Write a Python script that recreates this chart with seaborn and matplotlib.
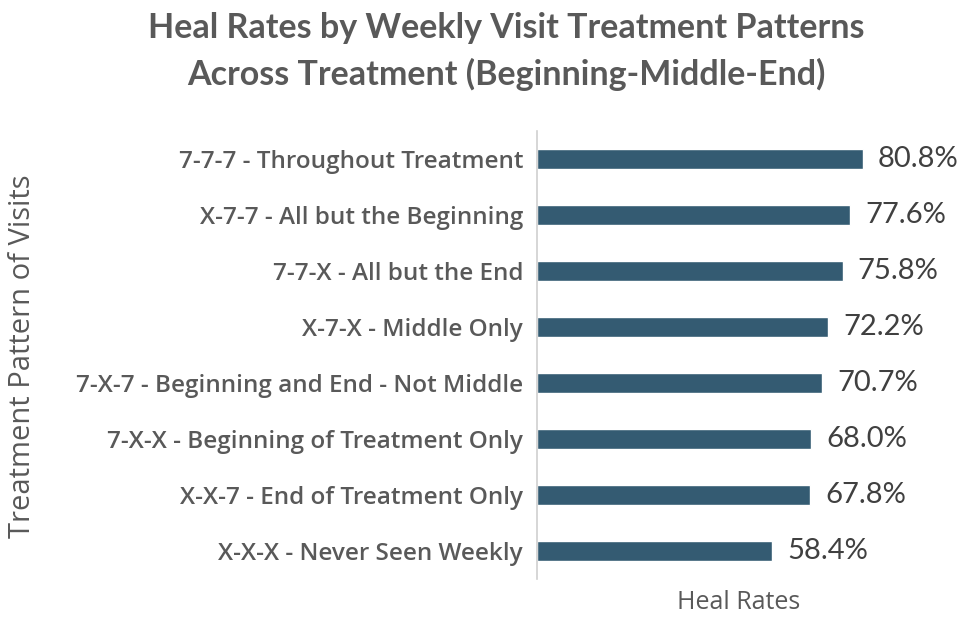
"""Heal rates by weekly visit pattern: horizontal bar chart."""
import matplotlib

matplotlib.use("Agg")
import matplotlib.pyplot as plt
import pandas as pd
import seaborn as sns

patterns = [
    "7-7-7 - Throughout Treatment",
    "X-7-7 - All but the Beginning",
    "7-7-X - All but the End",
    "X-7-X - Middle Only",
    "7-X-7 - Beginning and End - Not Middle",
    "7-X-X - Beginning of Treatment Only",
    "X-X-7 - End of Treatment Only",
    "X-X-X - Never Seen Weekly",
]
heal_rates = [80.8, 77.6, 75.8, 72.2, 70.7, 68.0, 67.8, 58.4]

BAR = "#345b72"
TXT = "#595959"

sns.set_style("white")
plt.rcParams["font.family"] = ["Open Sans", "DejaVu Sans"]

df = pd.DataFrame({"pattern": patterns, "rate": heal_rates})

fig = plt.figure(figsize=(9.61, 6.17), dpi=100)
ax = fig.add_axes([0.5588, 0.0616, 0.4194, 0.726])
sns.barplot(data=df, x="rate", y="pattern", orient="h", color=BAR,
            width=0.36, saturation=1, ax=ax)

ax.set_xlim(0, 100)
ax.set_ylim(len(patterns) - 0.5, -0.5)
for i, v in enumerate(heal_rates):
    ax.text(v + 3.8, i, f"{v:.1f}%", va="center", ha="left",
            fontsize=21, color="#404040", family=["Lato", "DejaVu Sans"])

# spine with ticks at category boundaries
for s in ["top", "right", "bottom"]:
    ax.spines[s].set_visible(False)
ax.spines["left"].set_color("#d0d0d0")
ax.spines["left"].set_linewidth(1.2)
ax.set_xticks([])
ax.set_yticks(range(len(patterns)))
ax.set_yticklabels(patterns, fontsize=17.5, color=TXT, fontweight="semibold")
ax.tick_params(axis="y", length=0, pad=10)
ax.set_yticks([i - 0.5 for i in range(len(patterns) + 1)], minor=True)
ax.tick_params(axis="y", which="minor", length=6, color="#d0d0d0", width=1.2)

ax.set_xlabel("Heal Rates", fontsize=18, color=TXT, labelpad=8)
ax.set_ylabel("")
fig.text(0.023, 0.423, "Treatment Pattern of Visits", rotation=90,
         ha="center", va="center", fontsize=21, color=TXT)

fig.text(0.527, 0.955, "Heal Rates by Weekly Visit Treatment Patterns",
         ha="center", va="center", fontsize=24.5, fontweight="bold",
         color=TXT, family=["Lato", "DejaVu Sans"])
fig.text(0.527, 0.879, "Across Treatment (Beginning-Middle-End)",
         ha="center", va="center", fontsize=24.5, fontweight="bold",
         color=TXT, family=["Lato", "DejaVu Sans"])

fig.savefig("out.png", dpi=100)
